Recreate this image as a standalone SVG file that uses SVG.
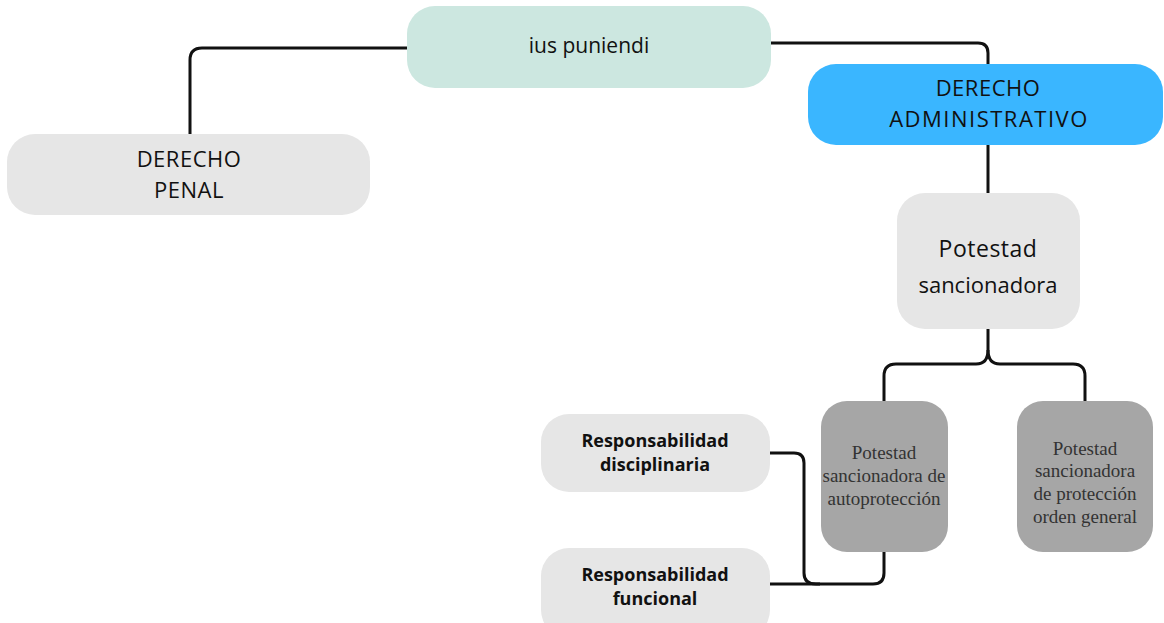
<svg xmlns="http://www.w3.org/2000/svg" width="1164" height="623" viewBox="0 0 1164 623">
<style>
.hand{font-family:"Open Sans","Liberation Sans",sans-serif;fill:#111;text-anchor:middle}
.ser{font-family:"Liberation Serif",serif;font-size:19px;fill:#333;text-anchor:middle}
.bold{font-family:"Open Sans","Liberation Sans",sans-serif;font-weight:bold;font-size:18px;fill:#111;text-anchor:middle}
.conn{fill:none;stroke:#111;stroke-width:3;stroke-linecap:butt}
</style>
<rect width="1164" height="623" fill="#fff"/>
<g id="connectors">
<path class="conn" d="M408,48 H202 Q190,48 190,60 V134"/>
<path class="conn" d="M771,43 H978 Q988,43 988,53 V64"/>
<path class="conn" d="M988,145 V193"/>
<path class="conn" d="M988,329 V350 Q988,364 976,364 H896 Q884,364 884,376 V401"/>
<path class="conn" d="M988,350 Q988,364 1000,364 H1073 Q1085,364 1085,376 V401"/>
<path class="conn" d="M770,453 H794 Q804,453 804,463 V573 Q804,584 816,584 H873 Q884,584 884,573 V552"/>
<path class="conn" d="M770,584 H820"/>
</g>
<g id="ius">
<rect x="407" y="6" width="364" height="82" rx="28" fill="#CCE7E0"/>
<text class="hand" x="589" y="53" font-size="21">ius puniendi</text>
</g>
<g id="penal">
<rect x="7" y="134" width="363" height="81" rx="28" fill="#E6E6E6"/>
<text class="hand" x="189" y="167" font-size="22" letter-spacing="0.5">DERECHO</text>
<text class="hand" x="189" y="198" font-size="22" letter-spacing="0.5">PENAL</text>
</g>
<g id="admin">
<rect x="808" y="64" width="355" height="81" rx="28" fill="#3AB6FF"/>
<text class="hand" x="988" y="96" font-size="22" letter-spacing="0.5">DERECHO</text>
<text class="hand" x="989" y="127" font-size="22" letter-spacing="1.5">ADMINISTRATIVO</text>
</g>
<g id="potestad">
<rect x="897" y="193" width="183" height="136" rx="28" fill="#E6E6E6"/>
<text class="hand" x="988" y="257" font-size="23" letter-spacing="0.5">Potestad</text>
<text class="hand" x="988" y="293" font-size="22">sancionadora</text>
</g>
<g id="autoproteccion">
<rect x="821" y="401" width="127" height="151" rx="26" fill="#A6A6A6"/>
<text class="ser" x="884" y="459">Potestad</text>
<text class="ser" x="884" y="482">sancionadora de</text>
<text class="ser" x="884" y="505">autoprotección</text>
</g>
<g id="orden">
<rect x="1017" y="401" width="136" height="151" rx="26" fill="#A6A6A6"/>
<text class="ser" x="1085" y="455">Potestad</text>
<text class="ser" x="1085" y="477">sancionadora</text>
<text class="ser" x="1085" y="500">de protección</text>
<text class="ser" x="1085" y="523">orden general</text>
</g>
<g id="disciplinaria">
<rect x="541" y="414" width="229" height="78" rx="28" fill="#E6E6E6"/>
<text class="bold" x="655" y="447">Responsabilidad</text>
<text class="bold" x="655" y="471">disciplinaria</text>
</g>
<g id="funcional">
<rect x="541" y="548" width="229" height="90" rx="28" fill="#E6E6E6"/>
<text class="bold" x="655" y="581">Responsabilidad</text>
<text class="bold" x="655" y="605">funcional</text>
</g>
</svg>
